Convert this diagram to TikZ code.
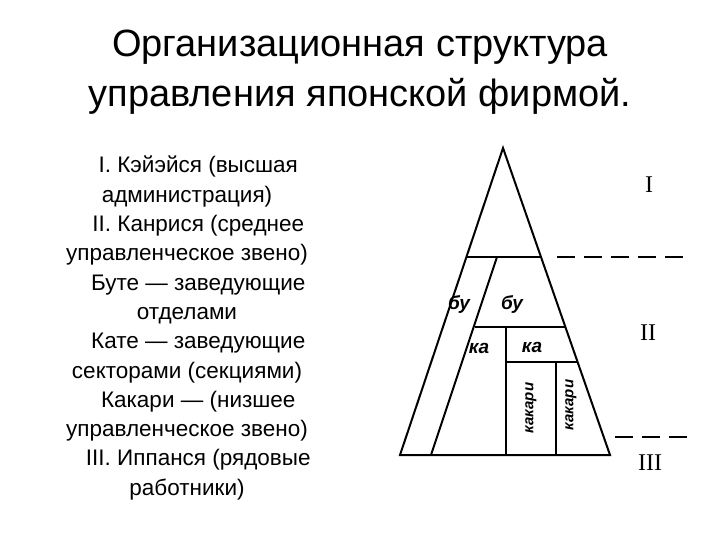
\documentclass[tikz,border=0pt]{standalone}
\usepackage{fontspec}
\setmainfont{Liberation Sans}
\begin{document}
\begin{tikzpicture}[x=1pt,y=-1pt,
  ln/.style={line width=2pt},
  dl/.style={line width=2.5pt,dash pattern=on 18pt off 9pt},
  lbl/.style={font=\fontsize{19}{19}\selectfont\itshape\bfseries,inner sep=0pt},
  rom/.style={font=\fontsize{24}{24}\selectfont\fontspec{Liberation Serif},inner sep=0pt},
  txt/.style={font=\fontsize{22.5}{29.3}\selectfont,align=center,inner sep=0pt}]
\useasboundingbox (0,0) rectangle (720,540);
\node[font=\fontsize{38}{50}\selectfont,align=center] (title) at (360,72) {Организационная структура\\управления японской фирмой.};
\node[txt,anchor=north] (body) at (187,156) {\hspace*{1em}I. Кэйэйся (высшая\\администрация)\\\hspace*{1em}II. Канрися (среднее\\управленческое звено)\\\hspace*{1em}Буте — заведующие\\отделами\\\hspace*{1em}Кате — заведующие\\секторами (секциями)\\\hspace*{1em}Какари — (низшее\\управленческое звено)\\\hspace*{1em}III. Иппанся (рядовые\\работники)};
\coordinate (A) at (503,148);
\coordinate (L) at (400,455);
\coordinate (R) at (610,455);
\draw[ln] (A)--(L)--(R)--cycle;
\draw[ln] (467,257)--(542,257);
\draw[ln] (497,257)--(431,455);
\draw[ln] (475,327)--(566,327);
\draw[ln] (506,327)--(506,455);
\draw[ln] (506,362)--(577,362);
\draw[ln] (556,362)--(556,455);
\node[lbl] (b1) at (459,305) {бу};
\node[lbl] (b2) at (512,305) {бу};
\node[lbl] (k1) at (479,348) {ка};
\node[lbl] (k2) at (532,347) {ка};
\node[lbl,rotate=90,font=\fontsize{15}{15}\selectfont\itshape\bfseries] (c1) at (531,408) {какари};
\node[lbl,rotate=90,font=\fontsize{15}{15}\selectfont\itshape\bfseries] (c2) at (571,405) {какари};
\draw[dl] (557,257)--(683,257);
\draw[dl] (615,437)--(695,437);
\node[rom] (r1) at (649,185) {I};
\node[rom] (r2) at (648,333) {II};
\node[rom] (r3) at (650,463) {III};
\end{tikzpicture}
\end{document}
